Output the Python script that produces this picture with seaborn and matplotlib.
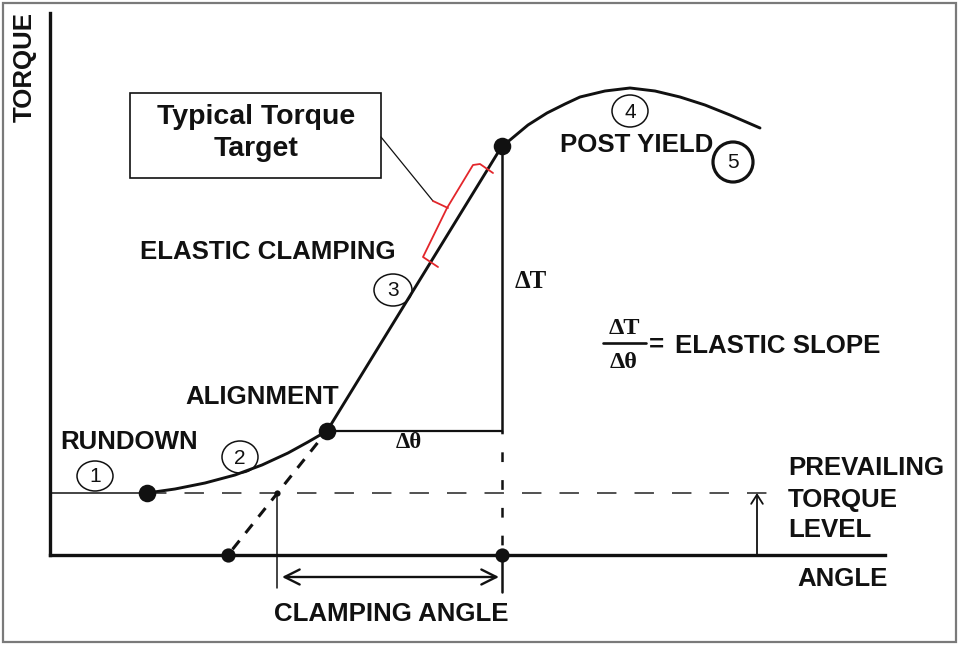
"""Torque-angle tightening curve schematic."""

import matplotlib

matplotlib.use("Agg")
import matplotlib.pyplot as plt
from matplotlib.patches import Ellipse, Rectangle
import pandas as pd
import seaborn as sns

# drawing units: angle / torque, 1 unit ~ 1 px of the 964x646 canvas
TOE_ANGLE = [97, 125, 155, 185, 212, 238, 258, 277]
TOE_TORQUE = [62, 66, 72, 80, 90, 102, 113, 124]
ELASTIC_ANGLE = [277, 452]
ELASTIC_TORQUE = [124, 409]
YIELD_ANGLE = [452, 460, 478, 497, 515, 530, 555, 580, 605, 630, 655, 680, 710]
YIELD_TORQUE = [409, 415, 430, 442, 451, 458, 464, 467, 464, 458, 450, 440, 427]

PREVAILING_TORQUE = 62
PREVAILING_END = 717
KEY_ANGLE = [97, 277, 452]        # rundown end, alignment end, yield point
KEY_TORQUE = [62, 124, 409]
AXIS_DOT_ANGLE = [178, 452]       # tangent intercept, yield angle
SNUG_ANGLE = 227                  # tangent meets prevailing level
ARROW_ANGLE = 707

BRACKET_ANGLE = [443, 430, 423, 397, 373, 382, 388]
BRACKET_TORQUE = [382, 391, 390, 347, 298, 292, 288]
LEADER_ANGLE = [331, 383, 398]
LEADER_TORQUE = [418, 354, 347]

STEP_LABELS = ["1", "2", "3", "4", "5"]
STEP_ANGLE = [45, 190, 343, 580, 683]
STEP_TORQUE = [79, 98, 265, 444, 393]
STEP_W = [36, 36, 38, 36, 40]
STEP_H = [30, 32, 32, 32, 40]

INK = "#111111"
RED = "#e3262b"


def main() -> None:
    sns.set_theme(style="white", rc={"lines.scale_dashes": False})
    plt.rcParams["font.family"] = ["Liberation Sans", "DejaVu Sans"]

    fig = plt.figure(figsize=(9.64, 6.46), dpi=100, facecolor="white")
    ax = fig.add_axes([0, 0, 1, 1])
    ax.set_xlim(-50, 914)
    ax.set_ylim(-91, 555)
    ax.set_xticks([])
    ax.set_yticks([])
    for side in ("top", "right"):
        ax.spines[side].set_visible(False)
    ax.spines["left"].set_position(("data", 0))
    ax.spines["bottom"].set_position(("data", 0))
    ax.spines["left"].set_bounds(0, 542)
    ax.spines["bottom"].set_bounds(0, 835)
    for side in ("left", "bottom"):
        ax.spines[side].set_color(INK)
        ax.spines[side].set_linewidth(2.4)

    # outer grey frame
    fig.patches.append(Rectangle((3 / 964, 4 / 646), 953 / 964, 639 / 646,
                                 transform=fig.transFigure, fill=False,
                                 edgecolor="#7a7a7a", linewidth=1.6))

    # tightening curve
    curve = pd.DataFrame({
        "angle": TOE_ANGLE + ELASTIC_ANGLE[1:] + YIELD_ANGLE[1:],
        "torque": TOE_TORQUE + ELASTIC_TORQUE[1:] + YIELD_TORQUE[1:],
    })
    sns.lineplot(data=curve, x="angle", y="torque", sort=False, estimator=None,
                 color=INK, linewidth=2.1, ax=ax)

    # rundown and prevailing torque
    ax.plot([0, KEY_ANGLE[0]], [PREVAILING_TORQUE] * 2, color=INK, lw=1.1)
    ax.plot([KEY_ANGLE[0], PREVAILING_END], [PREVAILING_TORQUE] * 2, color="#222222",
            lw=1.1, ls=(0, (14, 13)))

    # tangent back to the angle axis
    ax.plot([KEY_ANGLE[1], AXIS_DOT_ANGLE[0]], [KEY_TORQUE[1], 0], color=INK,
            lw=2.2, ls=(4, (8, 7)))

    # slope triangle
    ax.plot([KEY_ANGLE[1], KEY_ANGLE[2]], [KEY_TORQUE[1]] * 2, color=INK, lw=1.6)
    ax.plot([KEY_ANGLE[2]] * 2, [KEY_TORQUE[2], KEY_TORQUE[1]], color=INK, lw=1.8)
    ax.plot([KEY_ANGLE[2]] * 2, [KEY_TORQUE[1], 0], color=INK, lw=1.8, ls=(5, (7, 13)))
    ax.plot([KEY_ANGLE[2]] * 2, [0, -37], color=INK, lw=1.8)
    ax.plot([SNUG_ANGLE] * 2, [PREVAILING_TORQUE, -33], color=INK, lw=1.1)

    # clamping angle double arrow
    ax.annotate("", xy=(AXIS_DOT_ANGLE[1] - 3, -22), xytext=(SNUG_ANGLE + 5, -22),
                arrowprops=dict(arrowstyle="<->,head_length=0.9,head_width=0.45",
                                color=INK, lw=1.7, shrinkA=0, shrinkB=0))
    ax.annotate("", xy=(ARROW_ANGLE, PREVAILING_TORQUE), xytext=(ARROW_ANGLE, 0),
                arrowprops=dict(arrowstyle="->,head_length=0.55,head_width=0.35",
                                color=INK, lw=1.3, shrinkA=0, shrinkB=0))

    # key points
    sns.scatterplot(x=KEY_ANGLE, y=KEY_TORQUE, s=160, color=INK, linewidth=0, ax=ax, zorder=5)
    sns.scatterplot(x=AXIS_DOT_ANGLE, y=[0, 0], s=105, color=INK, linewidth=0, ax=ax, zorder=5)
    sns.scatterplot(x=[SNUG_ANGLE], y=[PREVAILING_TORQUE], s=20, color=INK, linewidth=0,
                    ax=ax, zorder=5)

    # target bracket and call-out box
    ax.plot(BRACKET_ANGLE, BRACKET_TORQUE, color=RED, lw=1.3)
    ax.plot(LEADER_ANGLE[:2], LEADER_TORQUE[:2], color=INK, lw=0.9)
    ax.plot(LEADER_ANGLE[1:], LEADER_TORQUE[1:], color=RED, lw=1.3)
    ax.add_patch(Rectangle((80, 377), 251, 85, fill=False, edgecolor=INK, lw=1.2))
    ax.text(206, 438, "Typical Torque", fontsize=20.5, weight="bold", color=INK,
            ha="center", va="center")
    ax.text(206, 406, "Target", fontsize=20.5, weight="bold", color=INK,
            ha="center", va="center")

    # step markers
    for label, x, y, w, h in zip(STEP_LABELS, STEP_ANGLE, STEP_TORQUE, STEP_W, STEP_H):
        thick = label == "5"
        ax.add_patch(Ellipse((x, y), w, h, fill=False, edgecolor=INK,
                             lw=2.3 if thick else 1.1, zorder=6))
        ax.text(x, y - 1, label, fontsize=15, color=INK, ha="center", va="center", zorder=7)

    caps = dict(fontsize=18.6, weight="bold", color=INK, va="center")
    ax.text(-25, 488, "TORQUE", rotation=90, ha="center", **caps)
    ax.text(90, 303, "ELASTIC CLAMPING", ha="left", **caps)
    ax.text(510, 410, "POST YIELD", ha="left", **caps)
    ax.text(135, 158, "ALIGNMENT", ha="left", **caps)
    ax.text(10, 113, "RUNDOWN", ha="left", **caps)
    ax.text(738, 87, "PREVAILING", ha="left", **caps)
    ax.text(738, 55, "TORQUE", ha="left", **caps)
    ax.text(738, 25, "LEVEL", ha="left", **caps)
    ax.text(747, -24, "ANGLE", ha="left", **caps)
    ax.text(341, -59, "CLAMPING ANGLE", ha="center", **caps)

    serif = dict(family=["Liberation Serif", "DejaVu Serif"], weight="bold",
                 color=INK, va="center")
    ax.text(465, 273, "ΔT", fontsize=18, ha="left", **serif)
    ax.text(359, 112, "Δθ", fontsize=16.5, ha="center", **serif)
    ax.text(574, 227, "ΔT", fontsize=17.5, ha="center", **serif)
    ax.text(574, 192, "Δθ", fontsize=17.5, ha="center", **serif)
    ax.plot([553, 596], [212, 212], color=INK, lw=1.9)
    ax.text(607, 210, "=", ha="center", **caps)
    ax.text(625, 209, "ELASTIC SLOPE", ha="left", **caps)

    fig.savefig("out.png", dpi=100, facecolor="white")
    plt.close(fig)


if __name__ == "__main__":
    main()
